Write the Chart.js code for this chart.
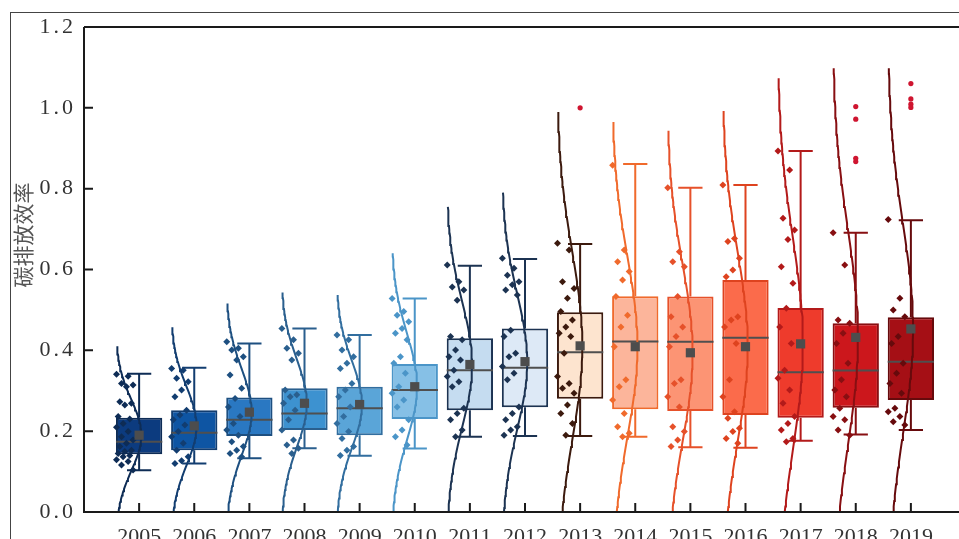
<!DOCTYPE html>
<html>
<head>
<meta charset="utf-8">
<script src="https://cdn.jsdelivr.net/npm/chart.js@4.4.1/dist/chart.umd.min.js"></script>
<style>
html, body { margin: 0; padding: 0; background: #fff; overflow: hidden; width: 959px; height: 539px; }
#frame { position: absolute; left: 10px; top: 12px; width: 1200px; height: 800px; border-left: 1px solid #444; border-top: 1px solid #444; }
#wrap { position: absolute; left: 0; top: 0; width: 980px; height: 539px; }
</style>
</head>
<body>
<div id="frame"></div>
<div id="wrap"><canvas id="chart" width="980" height="539"></canvas></div>
<script>
// years on the x axis
const years = [2005, 2006, 2007, 2008, 2009, 2010, 2011, 2012, 2013, 2014, 2015, 2016, 2017, 2018, 2019];

// box statistics
const boxQ1 = [0.143, 0.153, 0.188, 0.203, 0.190, 0.230, 0.252, 0.259, 0.280, 0.254, 0.250, 0.240, 0.233, 0.258, 0.277];
const boxMedian = [0.174, 0.196, 0.228, 0.244, 0.257, 0.302, 0.351, 0.357, 0.395, 0.422, 0.421, 0.431, 0.346, 0.350, 0.372];
const boxQ3 = [0.233, 0.252, 0.283, 0.306, 0.310, 0.366, 0.430, 0.454, 0.494, 0.534, 0.533, 0.574, 0.505, 0.467, 0.482];
const whiskerLow = [0.103, 0.120, 0.133, 0.158, 0.139, 0.157, 0.186, 0.188, 0.188, 0.186, 0.160, 0.159, 0.176, 0.192, 0.203];
const whiskerHigh = [0.342, 0.357, 0.417, 0.454, 0.438, 0.528, 0.609, 0.626, 0.663, 0.861, 0.802, 0.809, 0.893, 0.691, 0.722];
const meanValues = [0.190, 0.213, 0.247, 0.269, 0.266, 0.310, 0.365, 0.372, 0.411, 0.409, 0.394, 0.409, 0.416, 0.432, 0.453];

// top end of each fitted normal curve
const curveTop = [0.41, 0.457, 0.516, 0.543, 0.537, 0.64, 0.755, 0.79, 0.99, 0.965, 0.943, 0.992, 1.073, 1.098, 1.098];

// raw observations per year (scatter)
const scatterValues = [
    [0.341, 0.336, 0.318, 0.314, 0.31, 0.273, 0.269, 0.265, 0.236, 0.23, 0.219, 0.21, 0.199, 0.186, 0.178, 0.17, 0.162, 0.153, 0.15, 0.145, 0.14, 0.137, 0.129, 0.125, 0.116, 0.104],
    [0.355, 0.351, 0.331, 0.322, 0.302, 0.285, 0.252, 0.24, 0.228, 0.215, 0.199, 0.186, 0.17, 0.153, 0.137, 0.127, 0.12],
    [0.421, 0.405, 0.401, 0.384, 0.376, 0.339, 0.306, 0.281, 0.26, 0.236, 0.219, 0.203, 0.19, 0.174, 0.162, 0.153, 0.145, 0.137],
    [0.454, 0.426, 0.405, 0.393, 0.376, 0.302, 0.29, 0.285, 0.269, 0.252, 0.228, 0.203, 0.178, 0.166, 0.158, 0.145],
    [0.438, 0.426, 0.401, 0.384, 0.368, 0.355, 0.318, 0.302, 0.285, 0.26, 0.236, 0.219, 0.199, 0.182, 0.162, 0.153, 0.14],
    [0.528, 0.496, 0.487, 0.471, 0.454, 0.442, 0.426, 0.384, 0.368, 0.343, 0.31, 0.294, 0.277, 0.26, 0.228, 0.203, 0.186, 0.166],
    [0.611, 0.57, 0.557, 0.549, 0.524, 0.434, 0.426, 0.401, 0.384, 0.376, 0.351, 0.335, 0.322, 0.31, 0.257, 0.244, 0.228, 0.203, 0.186],
    [0.628, 0.603, 0.586, 0.57, 0.562, 0.549, 0.537, 0.45, 0.434, 0.393, 0.384, 0.36, 0.343, 0.327, 0.26, 0.244, 0.228, 0.211, 0.203, 0.19],
    [0.665, 0.648, 0.57, 0.553, 0.529, 0.496, 0.475, 0.458, 0.442, 0.434, 0.393, 0.335, 0.318, 0.306, 0.294, 0.265, 0.244, 0.219, 0.19],
    [0.858, 0.648, 0.619, 0.595, 0.574, 0.533, 0.487, 0.458, 0.409, 0.327, 0.31, 0.277, 0.244, 0.211, 0.195, 0.186],
    [0.802, 0.644, 0.619, 0.607, 0.533, 0.483, 0.458, 0.434, 0.409, 0.327, 0.318, 0.285, 0.26, 0.211, 0.199, 0.178, 0.162],
    [0.809, 0.677, 0.669, 0.628, 0.599, 0.582, 0.483, 0.475, 0.458, 0.417, 0.327, 0.285, 0.248, 0.232, 0.207, 0.199, 0.182, 0.17],
    [0.893, 0.846, 0.727, 0.698, 0.674, 0.607, 0.566, 0.504, 0.458, 0.417, 0.351, 0.331, 0.302, 0.269, 0.236, 0.219, 0.203, 0.182, 0.174],
    [0.691, 0.611, 0.475, 0.467, 0.442, 0.417, 0.368, 0.327, 0.302, 0.285, 0.257, 0.236, 0.228, 0.203, 0.19],
    [0.724, 0.529, 0.5, 0.483, 0.434, 0.417, 0.368, 0.343, 0.318, 0.294, 0.257, 0.248, 0.236, 0.223, 0.215]
];

// outliers above the upper whisker
const outlierYears = [2013, 2018, 2018, 2018, 2018, 2019, 2019, 2019, 2019];
const outlierValues = [1.0, 1.003, 0.972, 0.875, 0.867, 1.06, 1.022, 1.009, 1.001];

// y axis ticks
const yTicks = [0, 0.2, 0.4, 0.6, 0.8, 1.0, 1.2];

// colours
const boxFill = ['#0c3b7f', '#0e55a3', '#2a78c2', '#3d92d0', '#5aa5d8', '#86c0e6', '#c5dcf0', '#dde9f6',
                 '#fde4cf', '#fcb59b', '#fc9474', '#fb6b4b', '#ee3b2c', '#cc171c', '#a50f15'];
const darkColor = ['#0e2c55', '#123d70', '#1d4f80', '#2a5f8e', '#326e9f', '#4b95c8', '#1c3352', '#1c3352',
                   '#3c1a0e', '#f06a2c', '#e6512a', '#de431f', '#b31a1a', '#880f12', '#660a0c'];

const HALF_BOX = 0.42;   // half box width, in years
const CAP = 0.22;        // half whisker cap width
const PEAK = 0.46;       // peak width of the normal curve

const datasets = [];

// boxes as floating bars
datasets.push({
    type: 'bar',
    data: years.map((y, i) => ({ x: y, y: [boxQ1[i], boxQ3[i]] })),
    backgroundColor: boxFill,
    borderColor: darkColor,
    borderWidth: 2,
    borderSkipped: false,
    barPercentage: 0.84,
    categoryPercentage: 1,
    order: 6
});

// median lines
const medianData = [];
years.forEach((y, i) => {
    medianData.push({ x: y - HALF_BOX, y: boxMedian[i] }, { x: y + HALF_BOX, y: boxMedian[i] }, { x: y, y: null });
});
datasets.push({
    type: 'line', data: medianData, borderColor: '#4f4f4f', borderWidth: 2,
    pointRadius: 0, spanGaps: false, order: 4
});

// whiskers and caps
years.forEach((y, i) => {
    datasets.push({
        type: 'line',
        data: [
            { x: y, y: boxQ3[i] }, { x: y, y: whiskerHigh[i] }, { x: y, y: null },
            { x: y - CAP, y: whiskerHigh[i] }, { x: y + CAP, y: whiskerHigh[i] }, { x: y, y: null },
            { x: y, y: boxQ1[i] }, { x: y, y: whiskerLow[i] }, { x: y, y: null },
            { x: y - CAP, y: whiskerLow[i] }, { x: y + CAP, y: whiskerLow[i] }
        ],
        borderColor: darkColor[i], borderWidth: 2, pointRadius: 0, spanGaps: false, order: 5
    });
});

// fitted normal curve drawn sideways from the left edge of each box
years.forEach((y, i) => {
    const mu = meanValues[i];
    const sd = (curveTop[i] - mu) / 2.5;
    const base = y - HALF_BOX;
    const pts = [];
    const steps = 80;
    for (let k = 0; k <= steps; k++) {
        const v = curveTop[i] * k / steps;
        const z = (v - mu) / sd;
        pts.push({ x: base + PEAK * Math.exp(-0.5 * z * z), y: v });
    }
    datasets.push({
        type: 'line', data: pts, borderColor: darkColor[i], borderWidth: 2,
        pointRadius: 0, tension: 0, order: 3
    });
});

// jittered observations
years.forEach((y, i) => {
    const base = y - HALF_BOX;
    datasets.push({
        type: 'scatter',
        data: scatterValues[i].map((v, k) => ({ x: base + 0.01 + ((k * 7) % 11) / 10 * 0.3, y: v })),
        pointStyle: 'rectRot', pointRadius: 3.5, borderWidth: 0,
        backgroundColor: darkColor[i], order: 2
    });
});

// outliers
datasets.push({
    type: 'scatter',
    data: outlierYears.map((y, i) => ({ x: y, y: outlierValues[i] })),
    pointStyle: 'circle', pointRadius: 2.6, borderWidth: 0,
    backgroundColor: '#cf1530', order: 1
});

// means
datasets.push({
    type: 'scatter',
    data: years.map((y, i) => ({ x: y, y: meanValues[i] })),
    pointStyle: 'rect', pointRadius: 6.5, borderWidth: 0,
    backgroundColor: '#4d4d4d', order: 0
});

const serif = '"Liberation Serif", "DejaVu Serif", serif';

// spines, inward ticks, y tick labels and the y title
const framePlugin = {
    id: 'framePlugin',
    afterDraw(chart) {
        const ctx = chart.ctx;
        const { left, right, top, bottom } = chart.chartArea;
        const xs = chart.scales.x, ys = chart.scales.y;
        ctx.save();
        ctx.strokeStyle = '#1a1a1a';
        ctx.lineWidth = 2;
        ctx.beginPath();
        ctx.moveTo(left, top); ctx.lineTo(right + 20, top);
        ctx.moveTo(left, top); ctx.lineTo(left, bottom);
        ctx.moveTo(left - 1, bottom); ctx.lineTo(right + 20, bottom);
        yTicks.forEach(v => {
            const py = ys.getPixelForValue(v);
            ctx.moveTo(left, py); ctx.lineTo(left + 9, py);
        });
        years.forEach(y => {
            const px = xs.getPixelForValue(y);
            ctx.moveTo(px, bottom); ctx.lineTo(px, bottom - 9);
        });
        ctx.stroke();

        // y tick labels, spaced like the original's half-width serif face
        ctx.fillStyle = '#333';
        ctx.font = '22px ' + serif;
        ctx.textAlign = 'right';
        ctx.textBaseline = 'middle';
        ctx.letterSpacing = '3px';
        yTicks.forEach(v => {
            ctx.fillText(v.toFixed(1), 76, ys.getPixelForValue(v));
        });
        ctx.letterSpacing = '0px';

        ctx.translate(23, 235);
        ctx.rotate(-Math.PI / 2);
        ctx.fillStyle = '#555';
        ctx.font = '21px "Noto Sans CJK SC", sans-serif';
        ctx.textAlign = 'center';
        ctx.textBaseline = 'middle';
        ctx.fillText('碳排放效率', 0, 0);
        ctx.restore();
    }
};

new Chart(document.getElementById('chart'), {
    type: 'scatter',
    data: { datasets: datasets },
    options: {
        responsive: false,
        animation: false,
        layout: { padding: { top: 27, right: 14, left: 0, bottom: 0 } },
        plugins: { legend: { display: false }, tooltip: { enabled: false } },
        scales: {
            x: {
                type: 'linear', min: 2004, max: 2020, offset: false,
                grid: { display: false, drawTicks: false },
                border: { display: false },
                ticks: {
                    stepSize: 1, autoSkip: false, maxRotation: 0, padding: 12,
                    color: '#333', font: { family: serif, size: 22 },
                    callback: v => (v >= 2005 && v <= 2019) ? String(v) : ''
                },
                afterFit: s => { s.height = 27; }
            },
            y: {
                min: 0, max: 1.2,
                grid: { display: false, drawTicks: false },
                border: { display: false },
                ticks: { display: false, stepSize: 0.2 },
                afterFit: s => { s.width = 84; }
            }
        }
    },
    plugins: [framePlugin]
});
</script>
</body>
</html>
